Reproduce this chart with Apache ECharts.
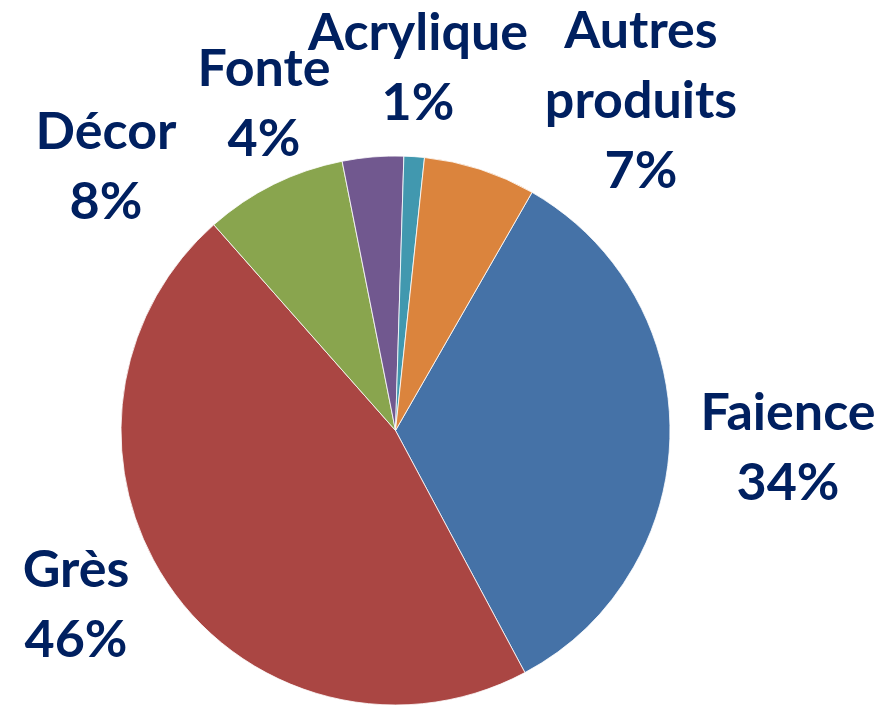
<!DOCTYPE html>
<html>
<head>
<meta charset="utf-8">
<script src="https://cdn.jsdelivr.net/npm/echarts@6/dist/echarts.min.js"></script>
<style>
  html, body { margin: 0; padding: 0; background: #fff; }
  #chart { width: 876px; height: 705px; }
</style>
</head>
<body>
<div id="chart"></div>
<script>
// 数据（顺时针，从 Faience 开始）
var categories = ['Faience', 'Grès', 'Décor', 'Fonte', 'Acrylique', 'Autres\nproduits'];
var values = [33.9, 46.3, 8.4, 3.6, 1.2, 6.6];
var colors = ['#4572A7', '#AA4643', '#89A54E', '#71588F', '#4198AF', '#DB843D'];

// 标签中心位置（像素）
var labelPos = [[788, 448], [76, 605], [106, 167], [264, 104], [418, 68], [641, 101]];

(function () {
    var myechart = echarts.init(document.getElementById('chart'));

    var option = {
        animation: false,
        series: [{
            type: 'pie',
            center: [395.5, 430.5],
            radius: 274.5,
            startAngle: 60.17,
            clockwise: true,
            avoidLabelOverlap: false,
            itemStyle: {
                borderColor: '#ffffff',
                borderWidth: 0.8
            },
            label: {
                show: true,
                position: 'outside',
                formatter: function (p) {
                    return p.name + '\n' + Math.round(p.percent) + '%';
                },
                color: '#002060',
                fontFamily: 'Lato',
                fontWeight: 'bold',
                fontSize: 52,
                lineHeight: 70,
                align: 'center'
            },
            labelLine: { show: false },
            labelLayout: function (params) {
                var pos = labelPos[params.dataIndex];
                return {
                    x: pos[0],
                    y: pos[1],
                    align: 'center',
                    verticalAlign: 'middle'
                };
            },
            data: categories.map(function (name, i) {
                return { name: name, value: values[i], itemStyle: { color: colors[i] } };
            })
        }]
    };

    myechart.setOption(option);
})();
</script>
</body>
</html>
